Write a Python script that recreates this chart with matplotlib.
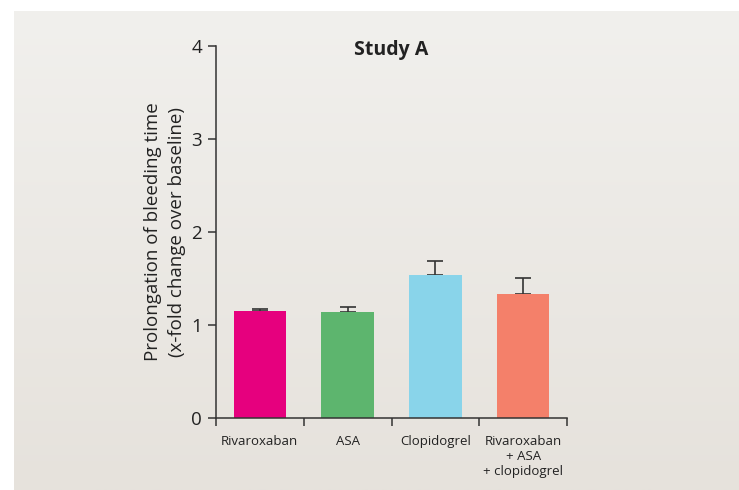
import numpy as np
import matplotlib.pyplot as plt
from matplotlib.colors import LinearSegmentedColormap

plt.rcParams['font.family'] = ['Open Sans', 'DejaVu Sans']

# bleeding time data
groups = ['Rivaroxaban', 'ASA', 'Clopidogrel', 'Rivaroxaban\n+ ASA\n+ clopidogrel']
fold_change = [1.15, 1.14, 1.535, 1.33]
sem = [0.02, 0.05, 0.155, 0.18]
bar_colors = ['#e6007e', '#5db56e', '#89d4ea', '#f4806a']

fig = plt.figure(figsize=(7.39, 4.90), dpi=100)
fig.patch.set_facecolor('white')

# panel background with soft vertical gradient
bg = fig.add_axes([14 / 739, 0, 1 - 14 / 739, 1 - 11 / 490])
grad = np.linspace(0, 1, 256).reshape(-1, 1)
cmap = LinearSegmentedColormap.from_list('panel', ['#f1f0ed', '#e6e2dc'])
bg.imshow(grad, aspect='auto', cmap=cmap, extent=[0, 1, 0, 1], origin='upper')
bg.set_axis_off()

ax = fig.add_axes([216 / 739, 1 - 418 / 490, (567 - 216) / 739, (418 - 46) / 490])
ax.patch.set_alpha(0)

x = np.arange(len(groups))
ax.bar(x, fold_change, width=0.6, color=bar_colors, zorder=2)
ax.errorbar(x, fold_change, yerr=[np.zeros(len(sem)), sem], fmt='none',
            ecolor='#333333', elinewidth=1.2, capsize=5.5, capthick=1.2, zorder=1)

ax.set_xlim(-0.5, 3.5)
ax.set_ylim(0, 4)
ax.set_yticks([0, 1, 2, 3, 4])
ax.tick_params(axis='y', labelsize=13.5, length=6, width=1.1, color='#333333',
               labelcolor='#222222', pad=4)

# category labels sit between the separator ticks
ax.set_xticks([-0.5, 0.5, 1.5, 2.5, 3.5])
ax.set_xticklabels([])
ax.tick_params(axis='x', which='major', length=6, width=1.1, color='#333333')
ax.set_xticks(x, minor=True)
ax.set_xticklabels(groups, minor=True, fontsize=9.5, color='#222222', va='top',
                   linespacing=1.2)
ax.tick_params(axis='x', which='minor', length=0, pad=12)

for side in ['top', 'right']:
    ax.spines[side].set_visible(False)
for side in ['left', 'bottom']:
    ax.spines[side].set_color('#333333')
    ax.spines[side].set_linewidth(1.1)

ax.set_ylabel('Prolongation of bleeding time\n(x-fold change over baseline)',
              fontsize=13.5, color='#222222', labelpad=4, linespacing=1.4)
ax.text(0.5, 0.99, 'Study A', transform=ax.transAxes, ha='center', va='center',
        fontsize=14, fontweight='bold', color='#222222')

fig.savefig('out.png', dpi=100)
